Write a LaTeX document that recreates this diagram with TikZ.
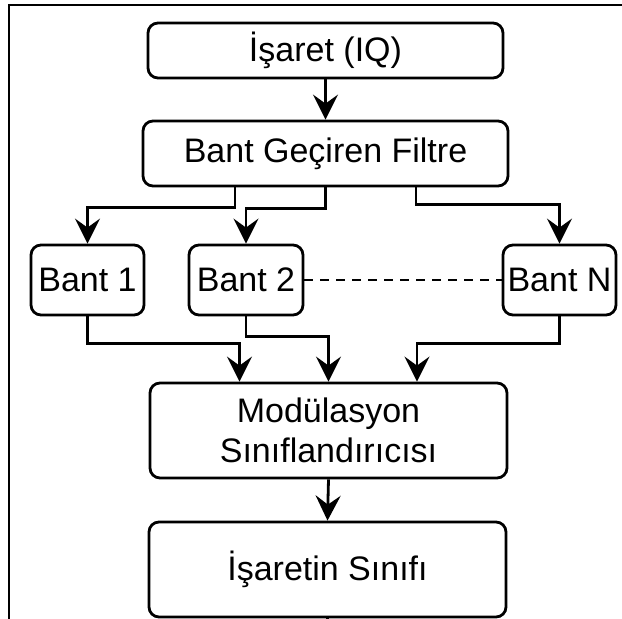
\documentclass[tikz,border=0pt]{standalone}
\usepackage{fontspec}
\setmainfont{Liberation Sans}
\usetikzlibrary{arrows.meta}

\tikzset{
  box/.style={draw=black, line width=2.8pt, rounded corners=10pt, fill=white,
    inner sep=0pt, align=center, font=\fontsize{34}{40}\selectfont},
  arr/.style={draw=black, line width=2.8pt,
    -{Stealth[length=25pt, width=25pt, inset=9pt]}},
  link/.style={draw=black, line width=2.8pt},
  dots/.style={draw=black, line width=2.6pt, dash pattern=on 9pt off 7pt},
  frame/.style={draw=black, line width=2pt}
}

\begin{document}
\begin{tikzpicture}[x=1pt, y=-1pt]
  \useasboundingbox (0,0) rectangle (622,619);

  % outer frame edges
  \coordinate (fbl) at (9,640);
  \coordinate (ftl) at (9,5);
  \coordinate (ftr) at (640,5);
  \draw[frame] (fbl) -- (ftl) -- (ftr);

  % blocks
  \node[box, minimum width=355pt, minimum height=55pt] (sig) at (325.5,50.5) {İşaret (IQ)};
  \node[box, minimum width=365pt, minimum height=65pt] (bpf) at (325.5,153.5) {Bant Geçiren Filtre};
  \node[box, minimum width=113pt, minimum height=70pt] (b1) at (87.5,280) {Bant 1};
  \node[box, minimum width=114pt, minimum height=70pt] (b2) at (246,280) {Bant 2};
  \node[box, minimum width=113pt, minimum height=70pt] (bN) at (559.5,280) {Bant N};
  \node[box, minimum width=357pt, minimum height=95pt] (mod) at (328.5,430.5) {Modülasyon\\Sınıflandırıcısı};
  \node[box, minimum width=357pt, minimum height=95pt] (cls) at (327.5,569.5) {İşaretin Sınıfı};

  % signal into the filter
  \draw[arr] (sig.south) -- (bpf.north);

  % filter outputs to the bands
  \draw[arr] ([xshift=-90.5pt]bpf.south) -- ++(0,20) -| (b1.north);
  \draw[arr] (bpf.south) -- ++(0,21) -| (b2.north);
  \draw[arr] ([xshift=90.5pt]bpf.south) -- ++(0,17) -| (bN.north);

  % bands in between
  \draw[dots] (b2.east) -- (bN.west);

  % bands into the classifier
  \draw[arr] (b1.south) -- ++(0,27) -| ([xshift=-89pt]mod.north);
  \draw[arr] (b2.south) -- ++(0,20) -| (mod.north);
  \draw[arr] (bN.south) -- ++(0,27) -| ([xshift=88.5pt]mod.north);

  % classifier to the result
  \draw[arr] (mod.south) -- (cls.north);
  \coordinate (tail) at (327.5,640);
  \draw[link] (cls.south) -- (tail);
\end{tikzpicture}
\end{document}
